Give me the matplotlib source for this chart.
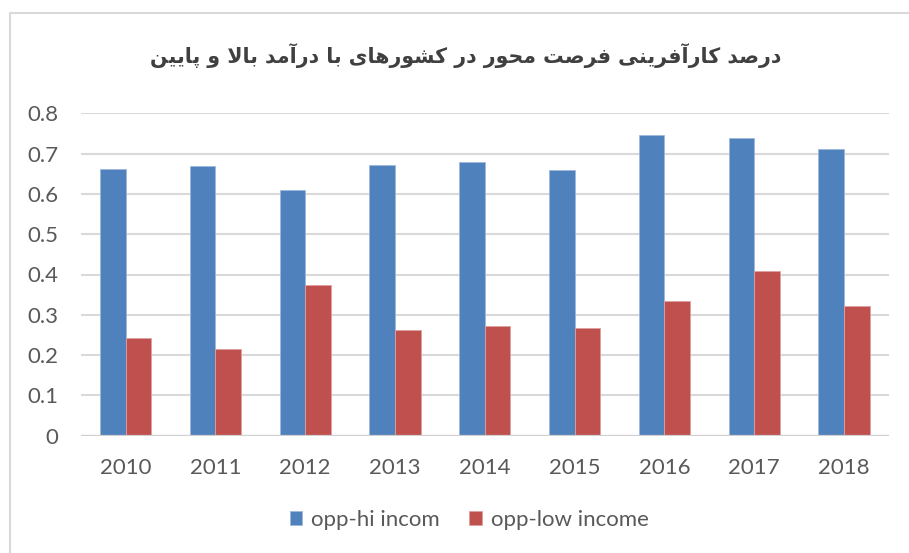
import matplotlib.pyplot as plt
from matplotlib.lines import Line2D

# data
years = ["2010", "2011", "2012", "2013", "2014", "2015", "2016", "2017", "2018"]
hi_income = [0.663, 0.669, 0.609, 0.672, 0.678, 0.660, 0.746, 0.739, 0.711]
low_income = [0.243, 0.214, 0.373, 0.262, 0.271, 0.268, 0.335, 0.408, 0.323]
series_names = ["opp-hi incom", "opp-low income"]
title = "درصد کارآفرینی فرصت محور در کشورهای با درآمد بالا و پایین"

# presentation forms: isolated, final, initial, medial (None = does not join forward)
FORMS = {
    "ا": ("\uFE8D", "\uFE8E", None, None),
    "آ": ("\uFE81", "\uFE82", None, None),
    "د": ("\uFEA9", "\uFEAA", None, None),
    "ر": ("\uFEAD", "\uFEAE", None, None),
    "و": ("\uFEED", "\uFEEE", None, None),
    "ب": ("\uFE8F", "\uFE90", "\uFE91", "\uFE92"),
    "پ": ("\uFB56", "\uFB57", "\uFB58", "\uFB59"),
    "ت": ("\uFE95", "\uFE96", "\uFE97", "\uFE98"),
    "ح": ("\uFEA1", "\uFEA2", "\uFEA3", "\uFEA4"),
    "ش": ("\uFEB5", "\uFEB6", "\uFEB7", "\uFEB8"),
    "ص": ("\uFEB9", "\uFEBA", "\uFEBB", "\uFEBC"),
    "ف": ("\uFED1", "\uFED2", "\uFED3", "\uFED4"),
    "ک": ("\uFB8E", "\uFB8F", "\uFB90", "\uFB91"),
    "ل": ("\uFEDD", "\uFEDE", "\uFEDF", "\uFEE0"),
    "م": ("\uFEE1", "\uFEE2", "\uFEE3", "\uFEE4"),
    "ن": ("\uFEE5", "\uFEE6", "\uFEE7", "\uFEE8"),
    "ه": ("\uFEE9", "\uFEEA", "\uFEEB", "\uFEEC"),
    "ی": ("\uFBFC", "\uFBFD", "\uFBFE", "\uFBFF"),
}
LAM_ALEF = {"ا": ("\uFEFB", "\uFEFC"), "آ": ("\uFEF5", "\uFEF6")}


def shape_rtl(text):
    chars = list(text)
    out = []
    i = 0
    while i < len(chars):
        c = chars[i]
        if c not in FORMS:
            out.append(c)
            i += 1
            continue
        prev = chars[i - 1] if i > 0 else None
        joins_prev = prev in FORMS and FORMS[prev][2] is not None
        if c == "ل" and i + 1 < len(chars) and chars[i + 1] in LAM_ALEF:
            lig = LAM_ALEF[chars[i + 1]]
            out.append(lig[1] if joins_prev else lig[0])
            i += 2
            continue
        nxt = chars[i + 1] if i + 1 < len(chars) else None
        iso, fin, ini, med = FORMS[c]
        joins_next = ini is not None and nxt in FORMS
        if joins_prev and joins_next:
            out.append(med)
        elif joins_prev:
            out.append(fin)
        elif joins_next:
            out.append(ini)
        else:
            out.append(iso)
        i += 1
    return "".join(reversed(out))


W, H = 909, 553
fig = plt.figure(figsize=(W / 100, H / 100), dpi=100)
ax = fig.add_axes([80.7 / W, 1 - 435.7 / H, (889 - 80.7) / W, (435.7 - 113.3) / H])

x = range(len(years))
bw = 0.285
ax.bar([i - bw / 2 for i in x], hi_income, bw, color="#4F81BD",
       edgecolor="#9db8dc", linewidth=0.6, label=series_names[0], zorder=3)
ax.bar([i + bw / 2 for i in x], low_income, bw, color="#C0504D",
       edgecolor="#e0a09e", linewidth=0.6, label=series_names[1], zorder=3)

ax.set_xlim(-0.5, len(years) - 0.5)
ax.set_ylim(0, 0.8)
ax.set_yticks([i / 10 for i in range(9)])
ax.set_yticklabels(["0"] + [f"{i / 10:.1f}" for i in range(1, 9)])
ax.set_xticks(list(x))
ax.set_xticklabels(years)

for s in ax.spines.values():
    s.set_visible(False)
ax.grid(axis="y", color="#d9d9d9", linewidth=1.5, zorder=0)
ax.axhline(0, color="#d0d0d0", linewidth=1.6, zorder=4)
ax.tick_params(length=0, labelsize=16, labelcolor="#595959")
ax.tick_params(axis="y", pad=16)
ax.tick_params(axis="x", pad=16)
for lab in ax.get_xticklabels() + ax.get_yticklabels():
    lab.set_family("Lato")

fig.text(466 / W, 1 - 56 / H, shape_rtl(title), ha="center", va="center",
         fontsize=14.8, fontweight="bold", color="#404040", family=["DejaVu Sans"])

fig.legend(loc="center", bbox_to_anchor=(469 / W, 1 - 520 / H), ncol=2,
           frameon=False, prop={"family": "Lato", "size": 16},
           labelcolor="#595959", handlelength=0.55, handleheight=0.55,
           handletextpad=0.4, columnspacing=1.35)

# chart border (top and left edges visible)
fig.add_artist(Line2D([10 / W, 10 / W, 1], [0, 1 - 13 / H, 1 - 13 / H],
                      transform=fig.transFigure, color="#d9d9d9", linewidth=1.5))

fig.savefig("out.png", dpi=100)
